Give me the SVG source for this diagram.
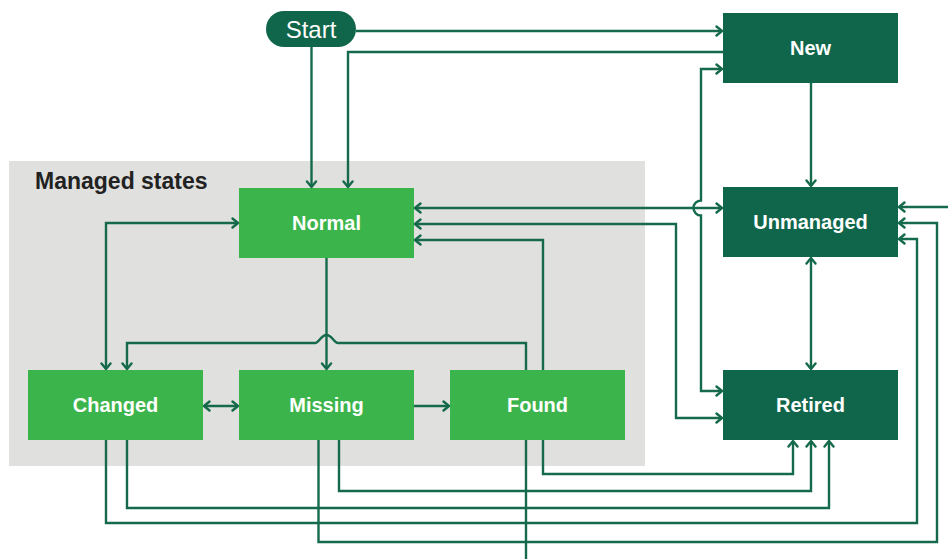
<svg xmlns="http://www.w3.org/2000/svg" width="948" height="559" viewBox="0 0 948 559">
  <style>
    .dark { fill: #10664a; }
    .light { fill: #3bb44b; }
    .lbl { font-family: "Liberation Sans", Arial, sans-serif; font-weight: bold; font-size: 20px; fill: #ffffff; text-anchor: middle; }
    .conn path { fill: none; stroke: #156a4b; stroke-width: 2.4; }
    .a { marker-end: url(#arr); }
    .b { marker-start: url(#arr); marker-end: url(#arr); }
  </style>
  <defs>
    <marker id="arr" markerUnits="userSpaceOnUse" markerWidth="12" markerHeight="14" refX="7" refY="6" viewBox="0 0 12 12" orient="auto-start-reverse">
      <path d="M1.5,1.5 L7,6 L1.5,10.5" fill="none" stroke="#156a4b" stroke-width="2.4" stroke-linecap="round" stroke-linejoin="round"/>
    </marker>
  </defs>
  <rect width="948" height="559" fill="#ffffff"/>

  <g id="managed-states">
    <rect x="9" y="161" width="636" height="305" fill="#e0e0de"/>
    <text x="35" y="189" font-family="'Liberation Sans', Arial, sans-serif" font-weight="bold" font-size="23" fill="#222222">Managed states</text>
  </g>

  <g id="start">
    <rect x="266" y="11" width="90" height="36" rx="18" class="dark"/>
    <text x="311" y="38" font-family="'Liberation Sans', Arial, sans-serif" font-size="24" fill="#ffffff" text-anchor="middle">Start</text>
  </g>
  <g id="new">
    <rect x="723" y="13" width="175" height="70" class="dark"/>
    <text x="810.5" y="55" class="lbl">New</text>
  </g>
  <g id="unmanaged">
    <rect x="723" y="187" width="175" height="70" class="dark"/>
    <text x="810.5" y="229" class="lbl">Unmanaged</text>
  </g>
  <g id="retired">
    <rect x="723" y="370" width="175" height="70" class="dark"/>
    <text x="810.5" y="412" class="lbl">Retired</text>
  </g>
  <g id="normal">
    <rect x="239" y="188" width="175" height="70" class="light"/>
    <text x="326.5" y="230" class="lbl">Normal</text>
  </g>
  <g id="changed">
    <rect x="28" y="370" width="175" height="70" class="light"/>
    <text x="115.5" y="412" class="lbl">Changed</text>
  </g>
  <g id="missing">
    <rect x="239" y="370" width="175" height="70" class="light"/>
    <text x="326.5" y="412" class="lbl">Missing</text>
  </g>
  <g id="found">
    <rect x="450" y="370" width="175" height="70" class="light"/>
    <text x="537.5" y="412" class="lbl">Found</text>
  </g>

  <g id="connectors" class="conn">
    <path class="a" d="M356,31 H722"/>
    <path class="a" d="M723,52 H348 V187"/>
    <path class="a" d="M311.5,47 V187"/>
    <path class="b" d="M722,69 H701 V200.5 a7.5,7.5 0 0 0 0,15 V391 H722"/>
    <path class="b" d="M415,208 H722"/>
    <path class="b" d="M415,224 H676 V418 H722"/>
    <path class="a" d="M543,370 V240 H415"/>
    <path class="a" d="M526,370 V343 H338 C334,343 332,335 326.5,335 C321,335 319,343 315,343 H127 V369"/>
    <path class="a" d="M326.5,258 V369"/>
    <path class="b" d="M238,223 H106 V369"/>
    <path class="b" d="M204,406 H238"/>
    <path class="a" d="M414,406 H449"/>
    <path class="a" d="M811,83 V186"/>
    <path class="b" d="M811,258 V369"/>
    <path class="a" d="M948,207 H899"/>
    <path class="a" d="M106,440 V523 H917 V239 H899"/>
    <path class="a" d="M127,440 V508 H829 V441"/>
    <path class="a" d="M318.5,440 V542 H937 V223 H899"/>
    <path class="a" d="M339,440 V491 H811 V441"/>
    <path class="a" d="M543,440 V474 H793 V441"/>
    <path d="M526,440 V559"/>
  </g>
</svg>
